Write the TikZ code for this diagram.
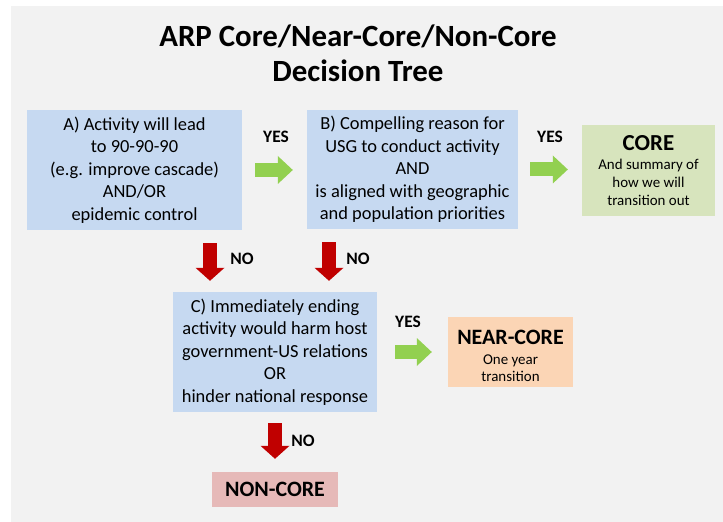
\documentclass[tikz,border=0pt]{standalone}
\usepackage{fontspec}
\setmainfont{Carlito}
\usetikzlibrary{arrows.meta,calc}

\definecolor{panel}{HTML}{F2F2F2}
\definecolor{qblue}{HTML}{C6D9F1}
\definecolor{coregreen}{HTML}{D7E4BD}
\definecolor{nearpeach}{HTML}{FBD5B5}
\definecolor{nonpink}{HTML}{E6B9B8}
\definecolor{yesgreen}{HTML}{92D050}
\definecolor{nored}{HTML}{C00000}

\begin{document}
\begin{tikzpicture}[x=1bp,y=-1bp,
  question/.style={fill=qblue, inner sep=0pt, align=center,
    font=\fontsize{18.5}{22.5}\selectfont},
  outcome/.style={inner sep=0pt, align=center,
    font=\fontsize{15}{17}\selectfont},
  answer/.style={font=\fontsize{17.5}{20}\selectfont\bfseries},
  yesarrow/.style={draw=yesgreen, line width=14bp,
    -{Triangle[length=15bp,width=28bp,line width=0pt]}},
  noarrow/.style={draw=nored, line width=14bp,
    -{Triangle[length=13bp,width=29bp,line width=0pt]}}
]
\useasboundingbox (0,0) rectangle (723,522);
\fill[panel] (11,6) rectangle (723,522);

% title
\node[align=center, font=\fontsize{31}{35}\selectfont\bfseries]
  (title) at (358,53) {ARP Core/Near-Core/Non-Core\\Decision Tree};

% question boxes
\node[question, minimum width=215bp, minimum height=120bp] (A) at (134.5,170)
  {A) Activity will lead\\to 90-90-90\\(e.g. improve cascade)\\AND/OR\\epidemic control};
\node[question, minimum width=211bp, minimum height=119bp] (B) at (412.5,169.5)
  {B) Compelling reason for\\USG to conduct activity\\AND\\is aligned with geographic\\and population priorities};
\node[question, minimum width=204bp, minimum height=120bp] (C) at (275,352)
  {C) Immediately ending\\activity would harm host\\government-US relations\\OR\\hinder national response};

% outcome boxes
\node[outcome, fill=coregreen, minimum width=133bp, minimum height=91bp, font=\fontsize{15}{18}\selectfont]
  (core) at (648.5,170.5)
  {{\fontsize{23}{24}\selectfont\bfseries CORE}\\[1bp]And summary of\\how we will\\transition out};
\node[outcome, fill=nearpeach, minimum width=125bp, minimum height=70bp]
  (near) at (510.5,352)
  {{\fontsize{22}{24}\selectfont\bfseries\rule{0pt}{22bp}NEAR-CORE}\\[4bp]One year\\transition};
\node[outcome, fill=nonpink, minimum width=126bp, minimum height=35bp,
  font=\fontsize{22}{24}\selectfont\bfseries]
  (non) at (275,489.5) {NON-CORE};

% x positions of the downward arrows
\coordinate (n1) at (210,0);
\coordinate (n2) at (329,0);
\coordinate (n3) at (275,0);

% YES arrows
\draw[yesarrow, shorten <=13bp, shorten >=14bp] (A.east) -- (A.east -| B.west);
\draw[yesarrow, shorten <=12bp, shorten >=14bp] (B.east) -- (B.east -| core.west);
\draw[yesarrow, shorten <=18bp, shorten >=16bp] (C.east) -- (near.west);

% NO arrows
\draw[noarrow, shorten <=13bp, shorten >=11bp] (A.south -| n1) -- (C.north -| n1);
\draw[noarrow, shorten <=13bp, shorten >=11bp] (B.south -| n2) -- (C.north -| n2);
\draw[noarrow, shorten <=11bp, shorten >=13bp] (C.south -| n3) -- (non.north -| n3);

% answer labels
\node[answer] (yes1) at (276,137) {YES};
\node[answer] (yes2) at (550,137) {YES};
\node[answer] (yes3) at (408,322) {YES};
\node[answer] (no1) at (242,259) {NO};
\node[answer] (no2) at (358,259) {NO};
\node[answer] (no3) at (303,441) {NO};
\end{tikzpicture}
\end{document}
